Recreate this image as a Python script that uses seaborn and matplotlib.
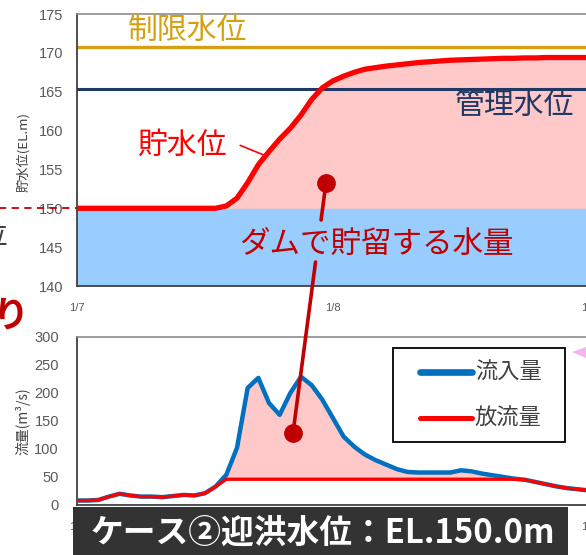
import numpy as np
import pandas as pd
import seaborn as sns
import matplotlib.pyplot as plt
from matplotlib.lines import Line2D
from matplotlib.patches import Rectangle, Polygon

sns.set_theme(style="white")
plt.rcParams["font.family"] = ["Liberation Sans", "DejaVu Sans"]
JP = ["Noto Sans CJK JP", "DejaVu Sans"]

# hourly series, hours counted from 1/7 00:00
hours = list(range(49))
reservoir_level = [150.0] * 14 + [
    150.3, 151.3, 153.3, 155.6, 157.3, 158.9, 160.3, 162.0, 164.0, 165.5,
    166.4, 167.0, 167.5, 167.9, 168.1, 168.3, 168.45, 168.6, 168.75, 168.85,
    168.95, 169.05, 169.1, 169.15, 169.2, 169.25, 169.3, 169.3, 169.35, 169.35,
    169.4, 169.4, 169.4, 169.4, 169.4]
inflow = [8, 8, 9, 15, 20, 17, 15, 15, 14, 16, 18, 17, 21, 33, 54, 102, 209,
          227, 182, 161, 200, 229, 214, 188, 155, 122, 104, 90, 80, 72, 64, 59,
          58, 58, 58, 58, 62, 60, 56, 53, 50, 47, 45, 41, 37, 33, 30, 28, 26]
outflow = [8, 8, 9, 15, 20, 17, 15, 15, 14, 16, 18, 17, 21, 33, 46, 46, 46,
           46, 46, 46, 46, 46, 46, 46, 46, 46, 46, 46, 46, 46, 46, 46, 46, 46,
           46, 46, 46, 46, 46, 46, 46, 46, 45, 41, 37, 33, 30, 28, 26]

limit_level = 170.8        # 制限水位
control_level = 165.4      # 管理水位
flood_start_level = 150.0  # 迎洪水位

date_ticks = [0, 24, 48]
date_labels = ["1/7", "1/8", "1/9"]
level_ticks = [140, 145, 150, 155, 160, 165, 170, 175]
flow_ticks = [0, 50, 100, 150, 200, 250, 300]
series_names = ["流入量", "放流量"]

df_level = pd.DataFrame({"hour": hours, "level": reservoir_level})
df_flow = pd.DataFrame({"hour": hours, "inflow": inflow, "outflow": outflow})

W, H = 586, 555
fig = plt.figure(figsize=(W / 100, H / 100), dpi=100)
ax1 = fig.add_axes([77 / W, 1 - 286 / H, 512 / W, 272 / H])
ax2 = fig.add_axes([77 / W, 1 - 505 / H, 512 / W, 168 / H])

PINK = "#FFC9C9"
BLUE_FILL = "#99CCFF"
DARK_RED = "#C00000"
TICK_GRAY = "#595959"
INFLOW_BLUE = "#0070C0"
OUTFLOW_RED = "#FF0000"

# ---------- reservoir level ----------
ax1.axhspan(140, flood_start_level, color=BLUE_FILL, lw=0, zorder=0)
lv = np.array(reservoir_level)
ax1.fill_between(hours, flood_start_level, lv, where=lv >= flood_start_level,
                 color=PINK, lw=0, zorder=0.5)
ax1.axhline(limit_level, color="#D4A010", lw=2.4, zorder=2)
ax1.axhline(control_level, color="#1F3864", lw=2.2, zorder=2)
sns.lineplot(data=df_level, x="hour", y="level", ax=ax1, color="#FF0000",
             lw=3.8, zorder=3, legend=False)
ax1.plot([-8, 0], [flood_start_level] * 2, ls=(0, (4, 3)), color=DARK_RED,
         lw=1.3, clip_on=False)

ax1.set_xlim(0, 48)
ax1.set_ylim(140, 175)
ax1.set_yticks(level_ticks)
ax1.set_xticks(date_ticks)
ax1.set_xticklabels(date_labels)
ax1.set_xlabel("")
ax1.set_ylabel("")

ax1.text(10.4, 172.9, "制限水位", family=JP, fontsize=21.5, color="#D4A010",
         ha="center", va="center")
ax1.text(41.0, 163.2, "管理水位", family=JP, fontsize=21.5, color="#1F3864",
         ha="center", va="center")
ax1.text(9.8, 158.1, "貯水位", family=JP, fontsize=21.5, color="#FF0000",
         ha="center", va="center")
ax1.plot([15.3, 17.6], [158.1, 156.8], color="#FF0000", lw=1.2)
ax1.text(28.1, 145.4, "ダムで貯留する水量", family=JP, fontsize=22,
         color=DARK_RED, ha="center", va="center")

# ---------- inflow / outflow ----------
ax2.fill_between(hours, outflow, inflow, color=PINK, lw=0, zorder=0.5)
sns.lineplot(data=df_flow, x="hour", y="inflow", ax=ax2, color=INFLOW_BLUE,
             lw=3.2, zorder=3, legend=False)
sns.lineplot(data=df_flow, x="hour", y="outflow", ax=ax2, color=OUTFLOW_RED,
             lw=2.4, zorder=4, legend=False)
ax2.set_xlim(0, 48)
ax2.set_ylim(0, 300)
ax2.set_yticks(flow_ticks)
ax2.set_xticks(date_ticks)
ax2.set_xticklabels(date_labels)
ax2.set_xlabel("")
ax2.set_ylabel("")

# legend box
ax2.add_patch(Rectangle((0.617, 0.375), 0.336, 0.560, transform=ax2.transAxes,
                        facecolor="white", edgecolor="black", lw=1.3,
                        zorder=6))
for name, col, lw_, yy in zip(series_names, (INFLOW_BLUE, OUTFLOW_RED),
                              (4.8, 3.6), (0.792, 0.518)):
    ax2.add_line(Line2D([0.670, 0.771], [yy, yy], color=col, lw=lw_,
                        solid_capstyle="round", transform=ax2.transAxes,
                        zorder=7))
    ax2.text(0.777, yy, name, family=JP, fontsize=16, color="#404040",
             ha="left", va="center", transform=ax2.transAxes, zorder=7)

for ax, pad_y in ((ax1, 10), (ax2, 13)):
    for side in ("left", "bottom"):
        ax.spines[side].set_color("#404040")
        ax.spines[side].set_linewidth(1.3)
    ax.spines["top"].set_color("#8C8C8C")
    ax.spines["top"].set_linewidth(1.2)
    ax.spines["right"].set_color("#8C8C8C")
    ax.tick_params(axis="y", length=0, pad=pad_y, labelsize=10.5,
                   labelcolor=TICK_GRAY)
    ax.tick_params(axis="x", direction="in", length=4, width=1, color="#404040",
                   pad=12, labelsize=8, labelcolor=TICK_GRAY)

fig.text(23 / W, 1 - 152 / H, "貯水位(EL.m)", family=JP, fontsize=9.5,
         color="#404040", rotation=90, ha="center", va="center")
fig.text(23 / W, 1 - 421 / H, "流量(m³/s)", family=JP, fontsize=10,
         color="#404040", rotation=90, ha="center", va="center")

# leader line tying the stored volume to the flow difference
fig.canvas.draw()
inv = fig.transFigure.inverted()
p_top = np.array(inv.transform(ax1.transData.transform((23.34, 153.25))))
p_bot = np.array(inv.transform(ax2.transData.transform((20.25, 128.6))))
for t0, t1 in ((0.0, 0.148), (0.316, 1.0)):
    a = p_top + (p_bot - p_top) * t0
    b = p_top + (p_bot - p_top) * t1
    fig.add_artist(Line2D([a[0], b[0]], [a[1], b[1]], color=DARK_RED, lw=2.6,
                          transform=fig.transFigure, zorder=10))
for p in (p_top, p_bot):
    fig.add_artist(Line2D([p[0]], [p[1]], marker="o", ms=12.5, color=DARK_RED,
                          transform=fig.transFigure, zorder=11))

# cropped slide elements around the chart
fig.text(8 / W, 1 - 236 / H, "水位", family=JP, fontsize=20, color="#404040",
         ha="right", va="center")
fig.text(28 / W, 1 - 316 / H, "り", family=JP, fontsize=26, weight="bold",
         color=DARK_RED, ha="right", va="center", style="italic")
fig.add_artist(Polygon([(572 / W, 1 - 352 / H), (586 / W, 1 - 347 / H),
                        (586 / W, 1 - 358 / H)], closed=True,
                       transform=fig.transFigure, color="#F5B4F0", lw=0))

fig.add_artist(Rectangle((73 / W, 0), 495 / W, 48 / H, transform=fig.transFigure,
                         color="#333333", lw=0, zorder=20))
fig.text(323 / W, 1 - 533 / H, "ケース②迎洪水位：EL.150.0m", family=JP,
         fontsize=23.6, weight="bold", color="white", ha="center", va="center",
         zorder=21)

fig.savefig("out.png", dpi=100)
